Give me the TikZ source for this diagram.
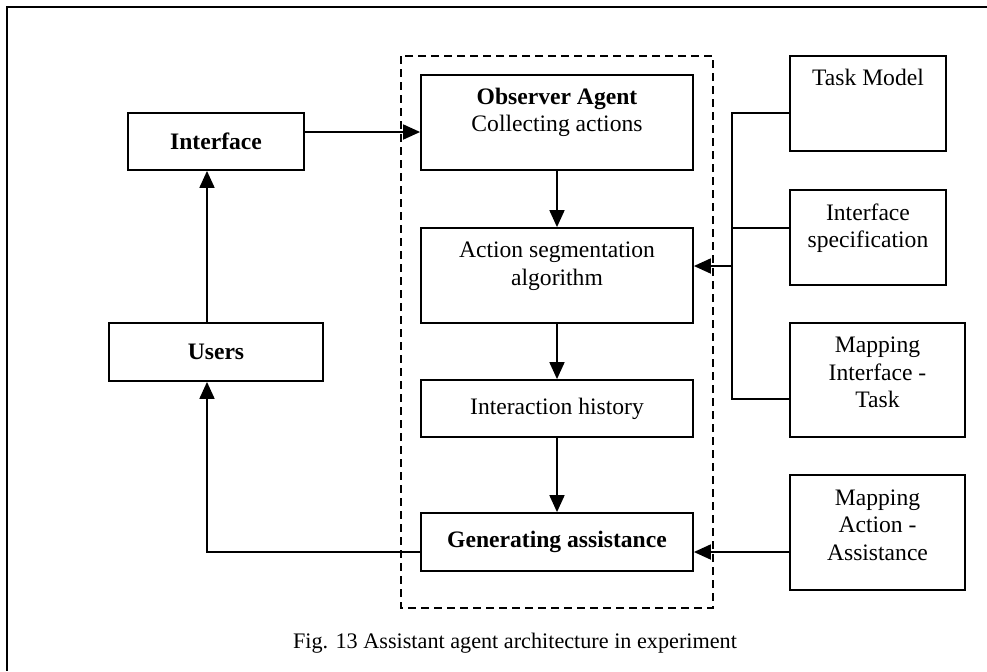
\documentclass[tikz,border=0pt]{standalone}
\usepackage{fontspec}
\setmainfont{Liberation Serif}
\usetikzlibrary{arrows.meta}
\begin{document}
\begin{tikzpicture}[x=0.5pt, y=-0.5pt, line width=0.9pt,
  box/.style={draw, rectangle, align=center, inner sep=0pt, font=\fontsize{11.8}{13.8}\selectfont},
  arr/.style={-{Triangle[length=8.5pt,width=7.5pt]}}]
\useasboundingbox (0,0) rectangle (987,671);
\draw (987,7) -- (7,7) -- (7,671);

\draw[dash pattern=on 4pt off 2.5pt] (401,56) rectangle (713,608);

\node[box, minimum width=88pt, minimum height=28.5pt] (iface) at (216,141.5) {\textbf{Interface}};
\node[box, minimum width=107pt, minimum height=29pt] (users) at (216,352) {\textbf{Users}};

\node[box, minimum width=136pt, minimum height=47.5pt, text depth=12.5pt] (obs) at (557,122.5) {\textbf{Observer Agent}\\Collecting actions};
\node[box, minimum width=136pt, minimum height=47.5pt, text depth=12pt] (seg) at (557,275.5) {Action segmentation\\algorithm};
\node[box, minimum width=136pt, minimum height=28.5pt] (hist) at (557,408.5) {Interaction history};
\node[box, minimum width=136pt, minimum height=29pt] (gen) at (557,542) {\textbf{Generating assistance}};

\node[box, minimum width=78pt, minimum height=47.5pt, text depth=26pt] (task) at (868,103.5) {Task Model};
\node[box, minimum width=78pt, minimum height=47.5pt, text depth=12pt] (spec) at (868,237.5) {Interface\\specification};
\node[box, minimum width=87.5pt, minimum height=57pt, text depth=7.5pt] (mapit) at (877.5,380) {Mapping\\Interface -\\Task};
\node[box, minimum width=87.5pt, minimum height=57.5pt, text depth=7.5pt] (mapaa) at (877.5,532.5) {Mapping\\Action -\\Assistance};

\coordinate (bustop) at (732,113);
\coordinate (busmid) at (732,228);
\coordinate (busin) at (732,266);
\coordinate (busbot) at (732,399);
\coordinate (genrow) at (750,552);

\draw[arr] ([yshift=4.75pt]iface.east) -- ([yshift=4.75pt]iface.east -| obs.west);
\draw[arr] (obs.south) -- (seg.north);
\draw[arr] (seg.south) -- (hist.north);
\draw[arr] (hist.south) -- (gen.north);

\draw (task.west |- bustop) -- (bustop) -- (busbot) -- (mapit.west |- busbot);
\draw (spec.west |- busmid) -- (busmid);
\draw[arr] (busin) -- (seg.east |- busin);

\draw[arr] (mapaa.west |- genrow) -- (gen.east |- genrow);
\draw[arr] (gen.west |- genrow) -| ([xshift=-4.5pt]users.south);
\draw[arr] ([xshift=-4.5pt]users.north) -- ([xshift=-4.5pt]iface.south);

\node[font=\fontsize{11.1}{13}\selectfont] (caption) at (515,643) {Fig. 13 Assistant agent architecture in experiment};
\end{tikzpicture}
\end{document}
